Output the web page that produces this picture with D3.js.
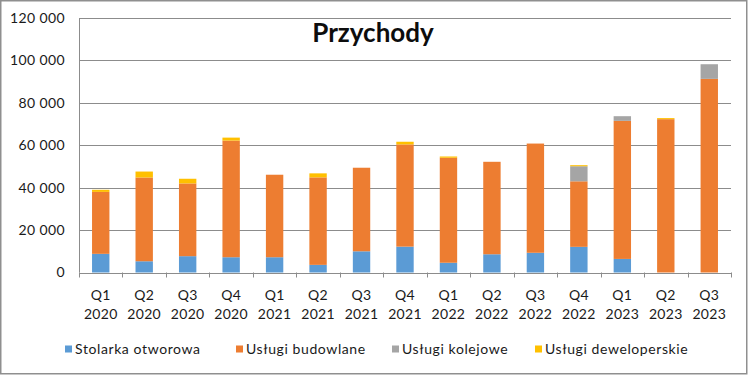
<!DOCTYPE html>
<html>
<head>
<meta charset="utf-8">
<script src="https://cdn.jsdelivr.net/npm/d3@7"></script>
<style>
  body { margin: 0; background: #fff; }
  text { font-family: Lato, "Open Sans", sans-serif; fill: #1a1a1a; }
</style>
</head>
<body>
<div id="chart"></div>
<script>
// Chart values
const quarters = ["Q1", "Q2", "Q3", "Q4", "Q1", "Q2", "Q3", "Q4", "Q1", "Q2", "Q3", "Q4", "Q1", "Q2", "Q3"];
const years = ["2020", "2020", "2020", "2020", "2021", "2021", "2021", "2021", "2022", "2022", "2022", "2022", "2023", "2023", "2023"];
const stolarka = [8800, 5300, 7700, 7200, 7200, 3600, 10000, 12200, 4600, 8600, 9300, 12100, 6400, 0, 0];
const budowlane = [29200, 39500, 34300, 55000, 38900, 41250, 39400, 48200, 49500, 43600, 51500, 30900, 65100, 72300, 91300];
const kolejowe = [0, 0, 0, 0, 0, 0, 0, 0, 0, 0, 0, 7100, 2200, 0, 6900];
const deweloperskie = [1000, 2800, 2200, 1400, 0, 1900, 0, 1250, 600, 0, 0, 500, 0, 500, 0];
const seriesNames = ["Stolarka otworowa", "Usługi budowlane", "Usługi kolejowe", "Usługi deweloperskie"];
const colors = ["#5B9BD5", "#ED7D31", "#A5A5A5", "#FFC000"];
const yTicks = [0, 20000, 40000, 60000, 80000, 100000, 120000];

const width = 750;
const height = 376;

const svg = d3.select("#chart").append("svg")
    .attr("width", width)
    .attr("height", height);

// outer frame
svg.append("rect")
    .attr("x", 0.75).attr("y", 0.75)
    .attr("width", 746).attr("height", 373)
    .attr("fill", "#fff")
    .attr("stroke", "#8f8f8f")
    .attr("stroke-width", 1.5);

const keys = quarters.map((q, i) => i);
const table = keys.map(i => ({
    i: i,
    s0: stolarka[i], s1: budowlane[i], s2: kolejowe[i], s3: deweloperskie[i]
}));

const x = d3.scaleBand()
    .domain(keys)
    .range([79, 731])
    .paddingInner(0.6)
    .paddingOuter(0.3);

const y = d3.scaleLinear()
    .domain([0, 120000])
    .range([272.5, 18]);

const pl = d3.formatLocale({ decimal: ",", thousands: "\u00a0", grouping: [3], currency: ["", ""] });
const fmt = pl.format(",");

// gridlines
svg.append("g")
    .selectAll("line")
    .data(yTicks.slice(1))
    .join("line")
    .attr("x1", 79).attr("x2", 731)
    .attr("y1", d => Math.round(y(d)) + 0.5)
    .attr("y2", d => Math.round(y(d)) + 0.5)
    .attr("stroke", "#8c8c8c")
    .attr("stroke-width", 1);

// y labels
svg.append("g")
    .selectAll("text")
    .data(yTicks)
    .join("text")
    .attr("x", 65)
    .attr("y", d => y(d))
    .attr("dy", "0.35em")
    .attr("text-anchor", "end")
    .attr("font-size", 14)
    .attr("letter-spacing", 0.4)
    .text(d => fmt(d));

// stacked bars
const stack = d3.stack().keys(["s0", "s1", "s2", "s3"]);
const layers = stack(table);

svg.append("g")
    .selectAll("g")
    .data(layers)
    .join("g")
    .attr("fill", (d, i) => colors[i])
    .selectAll("rect")
    .data(d => d)
    .join("rect")
    .attr("x", d => x(d.data.i))
    .attr("width", x.bandwidth())
    .attr("y", d => y(d[1]))
    .attr("height", d => y(d[0]) - y(d[1]));

// axes lines
const axisColor = "#8c8c8c";
svg.append("line")
    .attr("x1", 79.5).attr("x2", 79.5)
    .attr("y1", y(120000)).attr("y2", y(0))
    .attr("stroke", axisColor);
svg.append("line")
    .attr("x1", 79).attr("x2", 731)
    .attr("y1", Math.round(y(0)) + 0.5).attr("y2", Math.round(y(0)) + 0.5)
    .attr("stroke", axisColor);

// x tick marks at category boundaries
const bounds = keys.map(k => x(k) - x.step() * 0.3).concat([x.range()[1]]);
svg.append("g")
    .selectAll("line")
    .data(bounds)
    .join("line")
    .attr("x1", d => Math.round(d) + 0.5)
    .attr("x2", d => Math.round(d) + 0.5)
    .attr("y1", y(0))
    .attr("y2", y(0) + 5)
    .attr("stroke", axisColor);

// x labels (two lines)
const xl = svg.append("g")
    .selectAll("text")
    .data(keys)
    .join("text")
    .attr("x", d => x(d) + x.bandwidth() / 2)
    .attr("y", 300)
    .attr("text-anchor", "middle")
    .attr("font-size", 14)
    .attr("letter-spacing", 0.3);
xl.append("tspan").text(d => quarters[d]);
xl.append("tspan")
    .attr("x", d => x(d) + x.bandwidth() / 2)
    .attr("dy", 19)
    .text(d => years[d]);

// title
svg.append("text")
    .attr("x", 373)
    .attr("y", 42)
    .attr("text-anchor", "middle")
    .attr("font-size", 26)
    .attr("font-weight", "bold")
    .style("fill", "#0d0d0d")
    .text("Przychody");

// legend
const legendX = [65, 236, 392, 535];
const legend = svg.append("g")
    .selectAll("g")
    .data(seriesNames)
    .join("g")
    .attr("transform", (d, i) => `translate(${legendX[i]},349)`);
legend.append("rect")
    .attr("x", 0).attr("y", -3.5)
    .attr("width", 7).attr("height", 7)
    .attr("fill", (d, i) => colors[i]);
legend.append("text")
    .attr("x", 10)
    .attr("dy", "0.35em")
    .attr("font-size", 14)
    .attr("letter-spacing", 0.6)
    .text(d => d);
</script>
</body>
</html>
